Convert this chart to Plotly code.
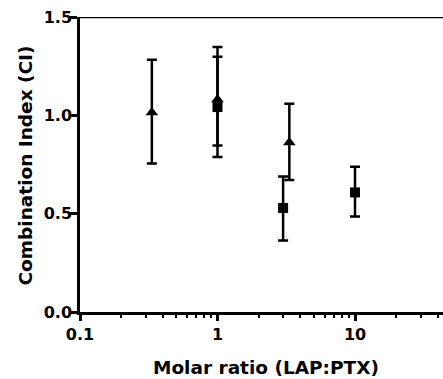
import plotly.graph_objects as go

# Triangle series
tri_x = [0.333, 1.0, 3.33]
tri_y = [1.015, 1.08, 0.862]
tri_hi = [1.283, 1.347, 1.059]
tri_lo = [0.755, 0.847, 0.671]

# Square series
sq_x = [1.0, 3.0, 10.0]
sq_y = [1.042, 0.529, 0.608]
sq_hi = [1.298, 0.689, 0.739]
sq_lo = [0.788, 0.364, 0.485]

x_ticks = [0.1, 1, 10]
x_tick_labels = ["0.1", "1", "10"]
y_ticks = [0.0, 0.5, 1.0, 1.5]
y_tick_labels = ["0.0", "0.5", "1.0", "1.5"]
x_title = "Molar ratio (LAP:PTX)"
y_title = "Combination Index (CI)"

minor_vals = [v * d for d in (0.1, 1, 10) for v in range(2, 10)]

def err(c, hi, lo):
    return [h - y for y, h in zip(c, hi)], [y - l for y, l in zip(c, lo)]

tp, tm = err(tri_y, tri_hi, tri_lo)
sp, sm = err(sq_y, sq_hi, sq_lo)

FONT = "DejaVu Sans, sans-serif"

fig = go.Figure()
fig.add_trace(go.Scatter(
    x=tri_x, y=tri_y, mode="markers",
    marker=dict(symbol="triangle-up", size=11, color="black"),
    error_y=dict(type="data", symmetric=False, array=tp, arrayminus=tm,
                 color="black", thickness=2.5, width=5),
    showlegend=False))
fig.add_trace(go.Scatter(
    x=sq_x, y=sq_y, mode="markers",
    marker=dict(symbol="square", size=10, color="black"),
    error_y=dict(type="data", symmetric=False, array=sp, arrayminus=sm,
                 color="black", thickness=2.5, width=5),
    showlegend=False))

W, H = 443, 379
left, right, top, bottom = 80, 0, 17, 67
decade_px = 137.5
x_max_log = -1 + (W - left - right) / decade_px

fig.update_layout(
    width=W, height=H,
    margin=dict(l=left, r=right, t=top, b=bottom, autoexpand=False),
    plot_bgcolor="white", paper_bgcolor="white",
    font=dict(family=FONT, color="black", size=16),
)
fig.update_xaxes(
    type="log", range=[-1, x_max_log], automargin=False,
    tickmode="array", tickvals=x_ticks, ticktext=x_tick_labels,
    ticks="outside", ticklen=6, tickwidth=2.5, tickcolor="black",
    tickfont=dict(size=16, family=FONT, weight="bold"),
    showline=True, linecolor="black", linewidth=2.5,
    showgrid=False, zeroline=False,
    minor=dict(tickmode="array", tickvals=minor_vals, ticks="outside", ticklen=3,
               tickwidth=2, tickcolor="black", showgrid=False),
)
fig.update_yaxes(
    range=[0, 1.5], automargin=False,
    tickmode="array", tickvals=y_ticks, ticktext=y_tick_labels,
    ticks="outside", ticklen=7, tickwidth=2.5, tickcolor="black",
    tickfont=dict(size=16, family=FONT, weight="bold"),
    ticklabelstandoff=-5,
    showline=True, linecolor="black", linewidth=2.5,
    showgrid=False, zeroline=False,
)
# top border line at 1.5
fig.add_shape(type="line", xref="paper", yref="y", x0=0, x1=1, y0=1.5, y1=1.5,
              line=dict(color="black", width=2.5))

fig.add_annotation(text=f"<b>{x_title}</b>", xref="paper", yref="paper",
                   x=(266 - left) / (W - left), y=0, xanchor="center", yanchor="middle",
                   yshift=-55, showarrow=False, font=dict(size=18.5, family=FONT))
fig.add_annotation(text=f"<b>{y_title}</b>", xref="paper", yref="paper",
                   x=0, y=(312 - 165.5) / (312 - 17), xanchor="center", yanchor="middle",
                   xshift=-55, textangle=-90, showarrow=False,
                   font=dict(size=18.5, family=FONT))

fig.write_html("out.html", config={"displayModeBar": False},
               post_script="document.body.style.margin='0';")
